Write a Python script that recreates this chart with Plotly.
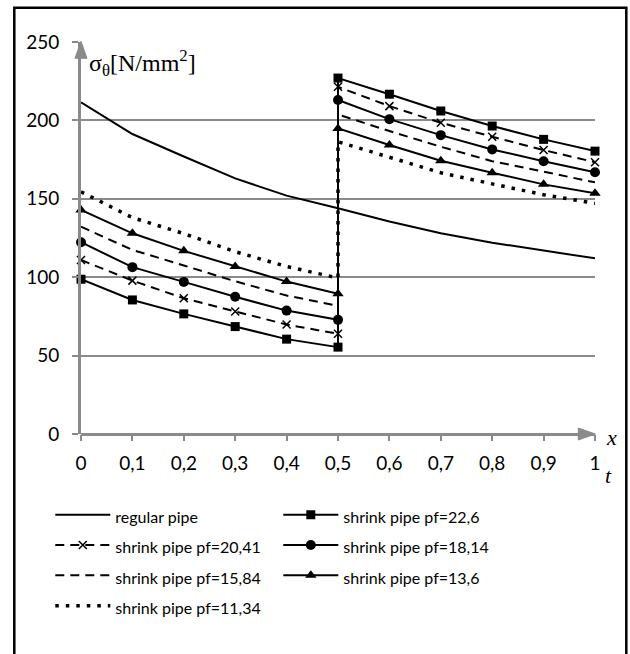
import plotly.graph_objects as go

# ---------------- data ----------------
x_regular = [0, 0.1, 0.2, 0.3, 0.4, 0.5, 0.6, 0.7, 0.8, 0.9, 1.0]
regular_pipe = [211.5, 191.3, 177, 163, 152, 144, 135.5, 128, 122, 117, 112]

x_shrink = [0, 0.1, 0.2, 0.3, 0.4, 0.5, 0.5, 0.6, 0.7, 0.8, 0.9, 1.0]
pf_22_6 = [98.7, 85.5, 76.6, 68.5, 60.5, 55.4, 227, 216.7, 206, 196.4, 187.9, 180.4]
pf_20_41 = [111, 97.8, 86.6, 78.1, 69.8, 63.9, 221.4, 209.1, 198.5, 189.6, 181.1, 173.3]
pf_18_14 = [122.3, 106.4, 97, 87.5, 78.7, 72.8, 213, 200.8, 190.6, 181.5, 173.9, 166.9]
pf_15_84 = [132.2, 117.4, 107.5, 97.4, 88.3, 81.8, 203.8, 193.2, 183.2, 174, 167.3, 160.5]
pf_13_6 = [142.9, 128, 116.8, 106.8, 97.2, 89.4, 194.9, 184.3, 174.3, 166.6, 159.2, 153.5]
pf_11_34 = [154.5, 138, 127.8, 116.3, 106.8, 99.5, 186.4, 176.5, 166.6, 159.5, 152.6, 147.1]

x_tick_vals = [0, 0.1, 0.2, 0.3, 0.4, 0.5, 0.6, 0.7, 0.8, 0.9, 1.0]
x_tick_text = ["0", "0,1", "0,2", "0,3", "0,4", "0,5", "0,6", "0,7", "0,8", "0,9", "1"]
y_tick_vals = [0, 50, 100, 150, 200, 250]

names = ["regular pipe", "shrink pipe pf=22,6", "shrink pipe pf=20,41",
         "shrink pipe pf=18,14", "shrink pipe pf=15,84", "shrink pipe pf=13,6",
         "shrink pipe pf=11,34"]

# ---------------- figure geometry (page pixels) ----------------
W, H = 630, 654
PL, PR, PT, PB = 80.7, 594.7, 41.7, 434.3   # plot area in page pixels
L, R, T, B = PL, W - PR, PT, H - PB
pw, ph = W - L - R, H - T - B

def px(xp):
    return (xp - L) / pw

def py(yp):
    return (H - B - yp) / ph

GREY = "#8a8a8a"
FONT = "Lato"
LEG_TXT = 16

fig = go.Figure()

def add(x, y, name, dash="solid", symbol=None, msize=9, width=2):
    mode = "lines+markers" if symbol else "lines"
    fig.add_trace(go.Scatter(
        x=x, y=y, mode=mode, cliponaxis=False,
        name=f'<span style="font-size:{LEG_TXT}px">{name}</span>',
        line=dict(color="black", width=width, dash=dash),
        marker=dict(symbol=symbol or "circle", size=msize, color="black",
                    line=dict(color="black", width=1.5 if symbol == "x-thin" else 0)),
    ))

add(x_regular, regular_pipe, names[0])
add(x_shrink, pf_22_6, names[1], symbol="square", msize=9)
add(x_shrink, pf_20_41, names[2], dash="9px,6px", symbol="x-thin", msize=8)
add(x_shrink, pf_18_14, names[3], symbol="circle", msize=10)
add(x_shrink, pf_15_84, names[4], dash="9px,6px")
add(x_shrink, pf_13_6, names[5], symbol="triangle-up", msize=10)
add(x_shrink, pf_11_34, names[6], dash="3.5px,7px", width=3.5)

shapes = []
# outer border
shapes.append(dict(type="rect", xref="paper", yref="paper",
                   x0=px(14), x1=px(626), y0=py(7.5), y1=py(670),
                   line=dict(color="black", width=2.5), fillcolor="rgba(0,0,0,0)"))
# y-axis arrowhead
shapes.append(dict(type="path", xref="paper", yref="paper",
                   path=f"M {px(PL-6)},{py(58)} L {px(PL)},{py(41)} L {px(PL+6)},{py(58)} Z",
                   fillcolor=GREY, line=dict(color=GREY, width=1)))
# x-axis arrowhead
shapes.append(dict(type="path", xref="paper", yref="paper",
                   path=f"M {px(578)},{py(PB-6)} L {px(595)},{py(PB)} L {px(578)},{py(PB+6)} Z",
                   fillcolor=GREY, line=dict(color=GREY, width=1)))

annotations = [
    dict(xref="paper", yref="paper", x=px(87), y=py(63), xanchor="left", yanchor="middle",
         text="σ<sub>θ</sub>[N/mm<sup>2</sup>]", showarrow=False,
         font=dict(family="Liberation Serif", size=24, color="black")),
    dict(xref="paper", yref="paper", x=px(611), y=py(438), xanchor="center", yanchor="middle",
         text="<i>x</i>", showarrow=False,
         font=dict(family="Liberation Serif", size=22, color="black")),
    dict(xref="paper", yref="paper", x=px(608), y=py(476), xanchor="center", yanchor="middle",
         text="<i>t</i>", showarrow=False,
         font=dict(family="Liberation Serif", size=22, color="black")),
]

fig.update_layout(
    width=W, height=H,
    margin=dict(l=L, r=R, t=T, b=B, pad=0, autoexpand=False),
    paper_bgcolor="white", plot_bgcolor="white",
    font=dict(family=FONT, size=16, color="black"),
    showlegend=True,
    legend=dict(orientation="h", x=px(50), y=py(495), xanchor="left", yanchor="top",
                entrywidth=158, entrywidthmode="pixels", itemwidth=55,
                font=dict(family=FONT, size=21, color="black"),
                bgcolor="rgba(0,0,0,0)", traceorder="normal"),
    shapes=shapes,
    annotations=annotations,
    xaxis=dict(range=[0, 1], tickvals=x_tick_vals, ticktext=x_tick_text,
               showgrid=False, zeroline=False, showline=False,
               ticks="outside", ticklen=6, tickwidth=1.5, tickcolor=GREY,
               ticklabelstandoff=6,
               tickfont=dict(family=FONT, size=19, color="black"), fixedrange=True),
    yaxis=dict(range=[0, 250], tickvals=y_tick_vals,
               showgrid=True, gridcolor=GREY, gridwidth=1.5,
               zeroline=True, zerolinecolor=GREY, zerolinewidth=3,
               showline=True, linecolor=GREY, linewidth=3,
               ticks="outside", ticklen=6, tickwidth=1.5, tickcolor=GREY,
               ticklabelstandoff=9,
               tickfont=dict(family=FONT, size=19, color="black"), fixedrange=True),
)

# remove the browser's default page margin so the figure fills the window exactly
fig.write_html("out.html",
               config={"displayModeBar": False},
               post_script="document.body.style.margin='0';document.body.style.overflow='hidden';")
